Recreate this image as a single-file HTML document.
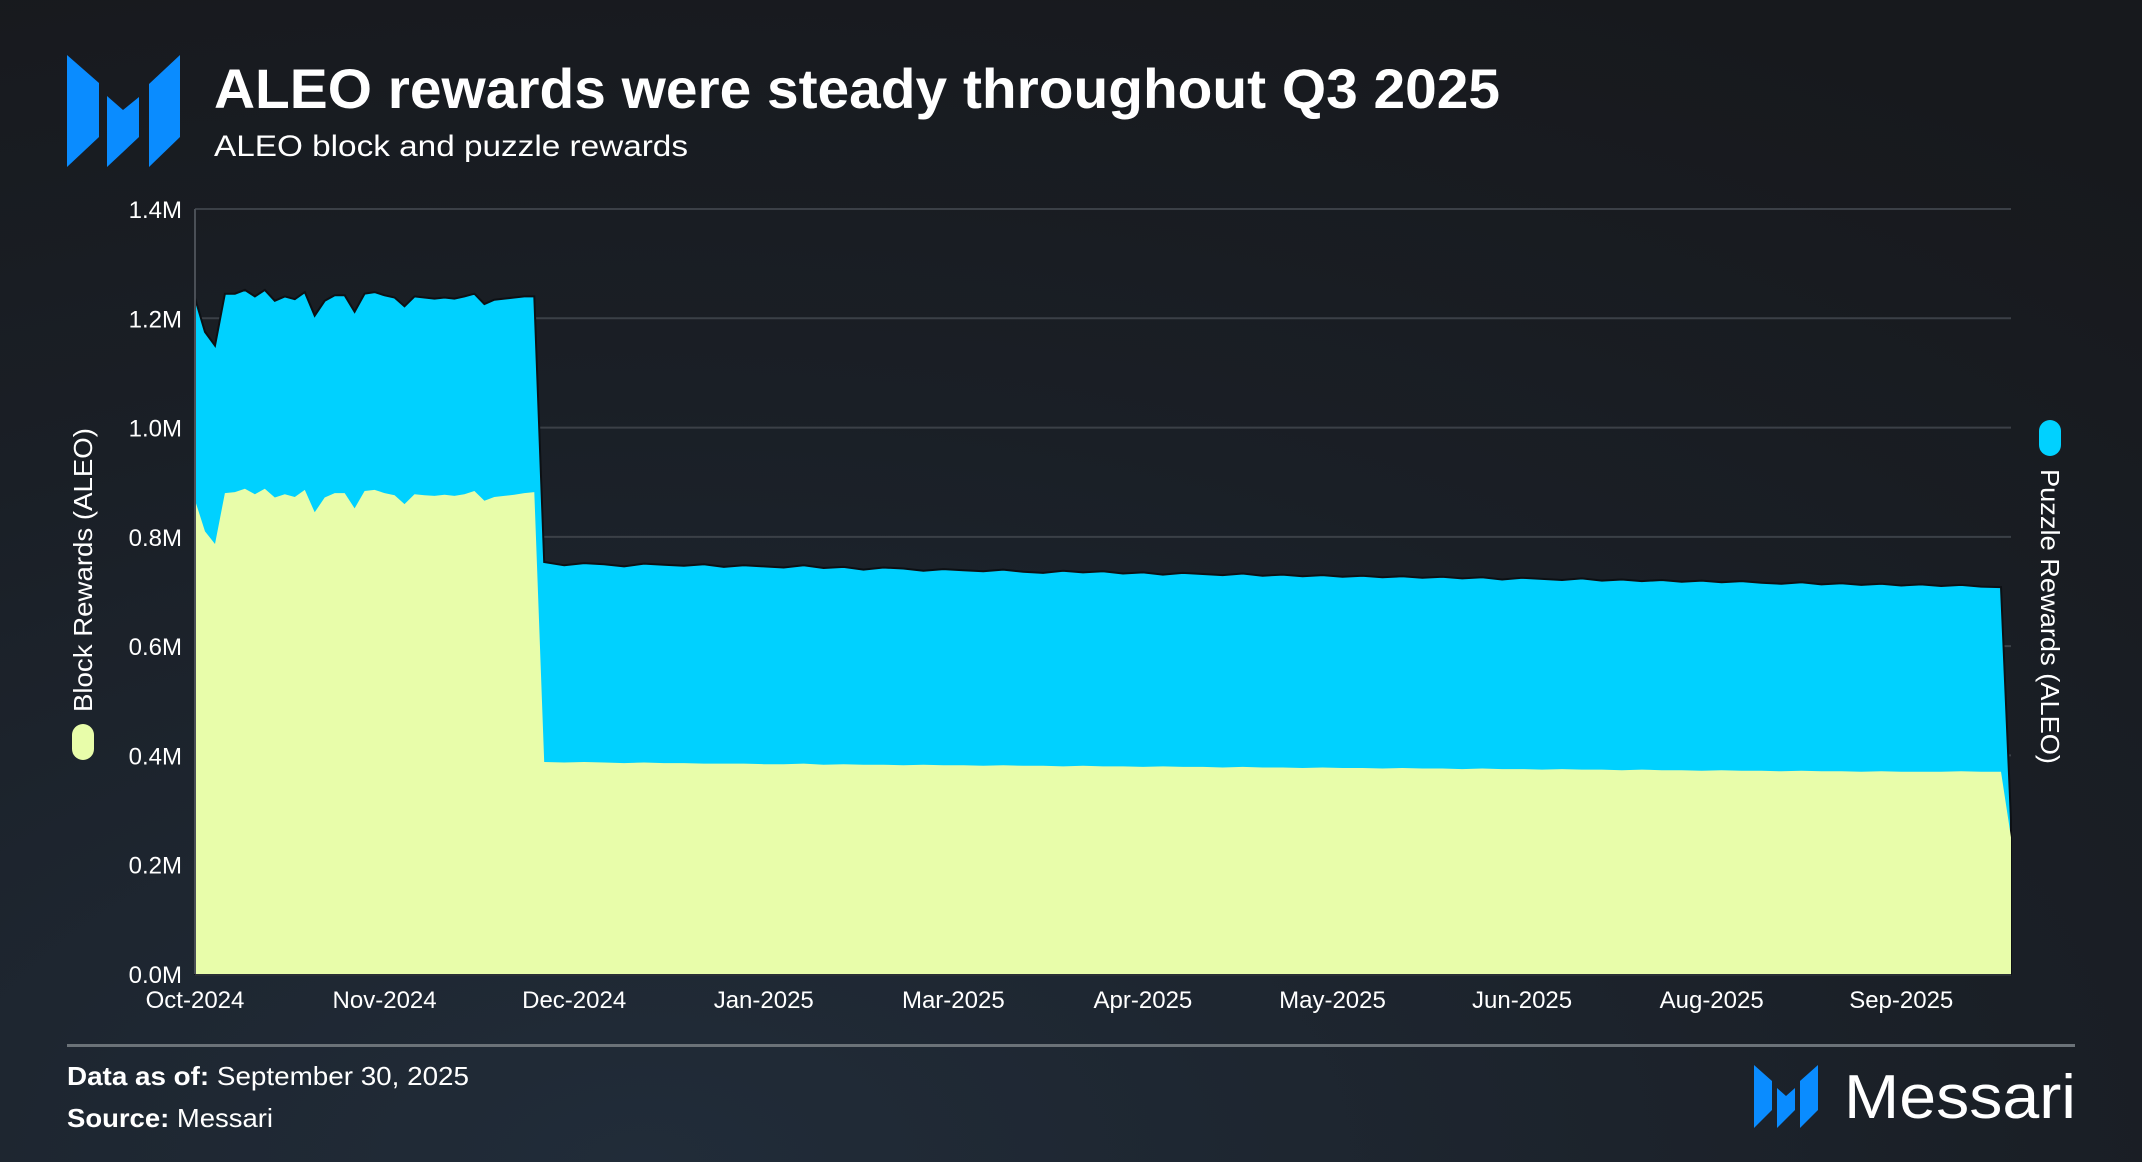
<!DOCTYPE html>
<html><head><meta charset="utf-8"><style>
html,body{margin:0;padding:0;width:2142px;height:1162px;overflow:hidden;background:#181c21;}
svg{display:block;font-family:"Liberation Sans",sans-serif;}
</style></head><body>
<svg id="chart" width="2142" height="1162" viewBox="0 0 2142 1162" xmlns="http://www.w3.org/2000/svg">
<defs>
<radialGradient id="bg" cx="0.3" cy="1.0" r="1.1">
<stop offset="0" stop-color="#212c39"/><stop offset="0.6" stop-color="#1a1f26"/><stop offset="1" stop-color="#17191d"/>
</radialGradient>
</defs>
<rect x="0" y="0" width="2142" height="1162" fill="url(#bg)"/>
<g fill="#0a8cff">
<polygon points="67,55 99,83 99,137 67,167"/>
<polygon points="107,96 123,110 139,97 139,137 107,167"/>
<polygon points="180,55 149,84 149,167 180,137"/>
</g>
<text x="214" y="108" font-size="56" font-weight="bold" fill="#ffffff" textLength="1286" lengthAdjust="spacingAndGlyphs">ALEO rewards were steady throughout Q3 2025</text>
<text x="214" y="156" font-size="30" fill="#ffffff" textLength="474" lengthAdjust="spacingAndGlyphs">ALEO block and puzzle rewards</text>
<g id="grid"></g>
<g id="areas"></g>
<g id="yticks"></g>
<g id="xticks"></g>
<rect x="72" y="724" width="22" height="36" rx="11" fill="#e8fdaa"/>
<text transform="translate(92,712) rotate(-90)" font-size="26" fill="#ffffff" textLength="284" lengthAdjust="spacingAndGlyphs">Block Rewards (ALEO)</text>
<rect x="2039" y="420" width="22" height="36" rx="11" fill="#00d1ff"/>
<text transform="translate(2041,469) rotate(90)" font-size="26" fill="#ffffff" textLength="295" lengthAdjust="spacingAndGlyphs">Puzzle Rewards (ALEO)</text>
<rect x="67" y="1044" width="2008" height="3" fill="#6b7278"/>
<text x="67" y="1085" font-size="26" fill="#ffffff" textLength="402" lengthAdjust="spacingAndGlyphs"><tspan font-weight="bold">Data as of:</tspan> September 30, 2025</text>
<text x="67" y="1127" font-size="26" fill="#ffffff" textLength="206" lengthAdjust="spacingAndGlyphs"><tspan font-weight="bold">Source:</tspan> Messari</text>
<g fill="#0a8cff">
<polygon points="1754,1065 1772,1081 1772,1110 1754,1128"/>
<polygon points="1777,1088 1786,1096 1795,1088 1795,1110 1777,1128"/>
<polygon points="1818,1065 1800,1081 1800,1128 1818,1110"/>
</g>
<text x="1844" y="1118" font-size="62" fill="#ffffff" textLength="232" lengthAdjust="spacingAndGlyphs">Messari</text>
</svg>
<script>
const yTickValues = [0, 0.2, 0.4, 0.6, 0.8, 1.0, 1.2, 1.4];
const yTickLabels = ["0.0M","0.2M","0.4M","0.6M","0.8M","1.0M","1.2M","1.4M"];
const xTickDays = [0, 38, 76, 114, 152, 190, 228, 266, 304, 342];
const xTickLabels = ["Oct-2024","Nov-2024","Dec-2024","Jan-2025","Mar-2025","Apr-2025","May-2025","Jun-2025","Aug-2025","Sep-2025"];
const earlyDays = [0,2,4,6,8,10,12,14,16,18,20,22,24,26,28,30,32,34,36,38,40,42,44,46,48,50,52,54,56,58,60,62,64,66,68];
const lateDays = [70,74,78,82,86,90,94,98,102,106,110,114,118,122,126,130,134,138,142,146,150,154,158,162,166,170,174,178,182,186,190,194,198,202,206,210,214,218,222,226,230,234,238,242,246,250,254,258,262,266,270,274,278,282,286,290,294,298,302,306,310,314,318,322,326,330,334,338,342,346,350,354,358,362,364];
const days = earlyDays.concat(lateDays);
// Block rewards (thousand ALEO)
const blockRewards = [867,810,787,880,882,888,878,888,872,878,873,886,845,872,880,880,852,884,886,880,876,860,878,876,875,877,875,878,884,866,873,875,877,880,882,
388,387,388,387,386,387,386,386,385,385,
385,384,384,385,383,384,383,383,382,383,
382,382,381,382,381,381,380,381,380,380,
379,380,379,379,378,379,378,378,377,378,
377,377,376,377,376,376,375,376,375,375,
374,375,374,374,373,374,373,373,372,373,
372,372,371,372,371,371,370,371,370,370,
370,371,370,370,250];
// Puzzle rewards (thousand ALEO)
const puzzleRewards = [370,365,363,365,363,364,362,364,360,362,362,362,360,360,362,362,360,361,362,362,362,362,362,362,361,361,361,362,361,360,361,361,361,360,358,
366,361,364,363,360,364,363,361,365,360,
363,362,360,363,360,361,357,361,360,355,
359,357,356,358,355,353,358,354,357,353,
356,351,355,353,352,354,351,353,351,352,
350,352,350,351,349,351,349,350,347,350,
349,346,350,346,349,345,348,345,348,344,
347,344,343,345,342,344,342,343,341,343,
340,341,339,338,30];

const NS = "http://www.w3.org/2000/svg";
const PL = 195, PR = 2011, PT = 209, PB = 974;
const xScale = d => PL + (d / 364) * (PR - PL);
const yScale = v => PB - (v / 1.4) * (PB - PT);
function mk(tag, attrs, parent) {
  const e = document.createElementNS(NS, tag);
  for (const k in attrs) e.setAttribute(k, attrs[k]);
  parent.appendChild(e);
  return e;
}
const gridG = document.getElementById('grid');
const ytG = document.getElementById('yticks');
yTickValues.forEach((v, i) => {
  if (v > 0) {
    const g = mk('line', {x1: PL, x2: PR, y1: yScale(v), y2: yScale(v), stroke: '#3b4047', 'stroke-width': 2}, gridG);
    
    
  }
  const t = mk('text', {x: 182, y: yScale(v) + 9, 'text-anchor': 'end', 'font-size': 24, fill: '#ffffff'}, ytG);
  t.textContent = yTickLabels[i];
  
  
});
const xtG = document.getElementById('xticks');
xTickDays.forEach((d, i) => {
  const t = mk('text', {x: xScale(d), y: 1008, 'text-anchor': 'middle', 'font-size': 24, fill: '#ffffff'}, xtG);
  t.textContent = xTickLabels[i];
  
  
});
const areasG = document.getElementById('areas');
let totalPath = '', blockPath = '';
days.forEach((d, i) => {
  const b = blockRewards[i] / 1000, p = puzzleRewards[i] / 1000;
  totalPath += (i ? 'L' : 'M') + xScale(d).toFixed(1) + ',' + yScale(b + p).toFixed(1);
  blockPath += (i ? 'L' : 'M') + xScale(d).toFixed(1) + ',' + yScale(b).toFixed(1);
});
const lastX = xScale(days[days.length - 1]).toFixed(1), firstX = xScale(days[0]).toFixed(1);
const basePath = 'L' + lastX + ',' + PB + 'L' + firstX + ',' + PB + 'Z';
const pz = mk('path', {d: totalPath + basePath, fill: '#00d1ff', stroke: '#0d1014', 'stroke-width': 2}, areasG);


const bl = mk('path', {d: blockPath + basePath, fill: '#e8fdaa'}, areasG);


const ax = mk('line', {x1: PL, x2: PL, y1: PT, y2: PB, stroke: '#4a4f56', 'stroke-width': 2}, areasG);


const bx = mk('line', {x1: PL, x2: PR, y1: PB + 1, y2: PB + 1, stroke: '#2a2f35', 'stroke-width': 2}, areasG);


</script>
</body></html>
